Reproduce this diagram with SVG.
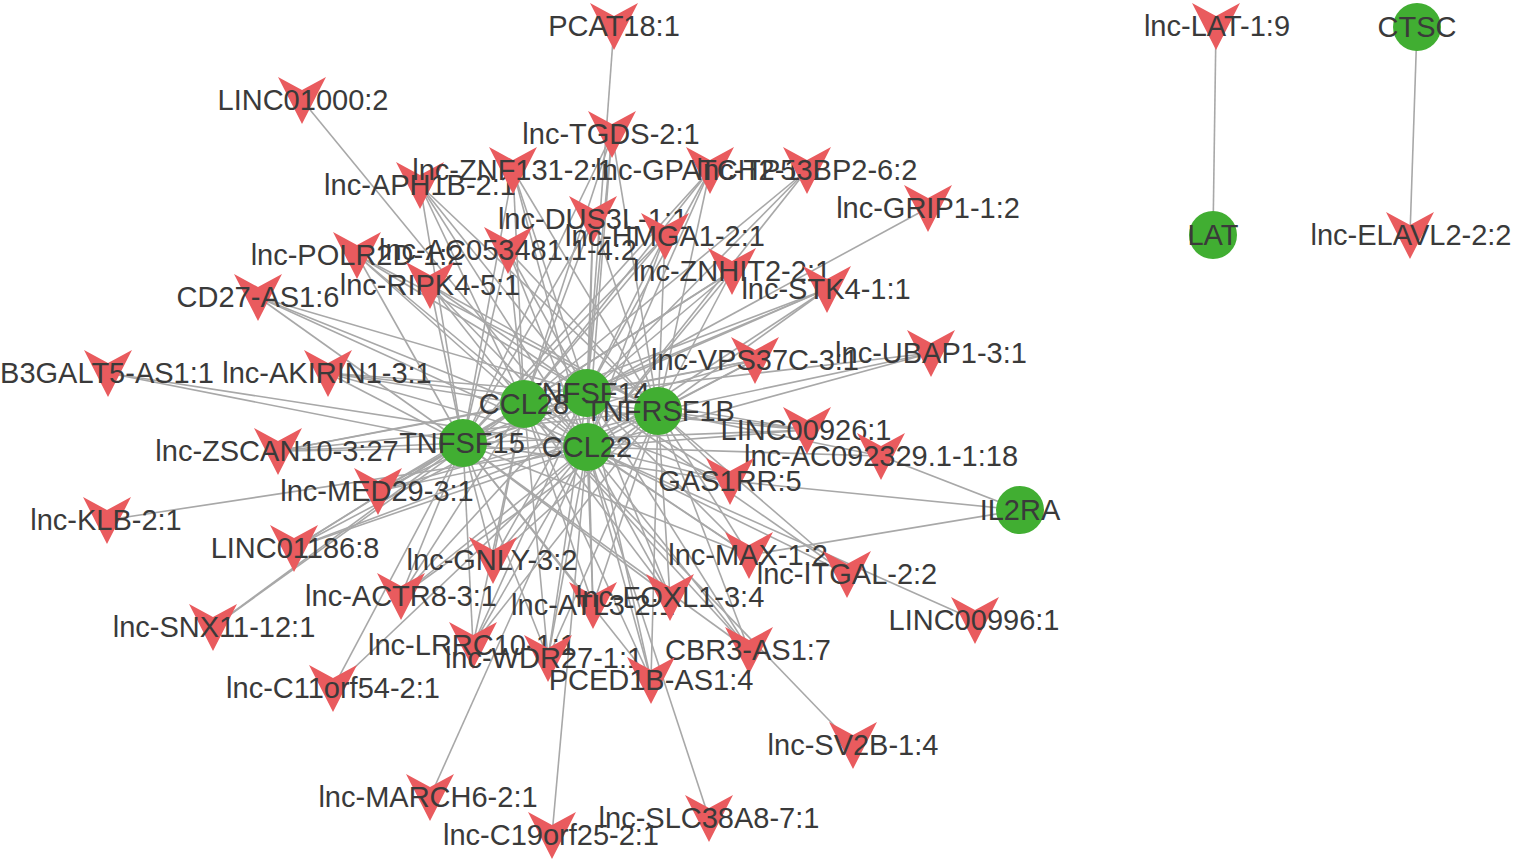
<svg xmlns="http://www.w3.org/2000/svg" xmlns:xlink="http://www.w3.org/1999/xlink" width="1513" height="861" viewBox="0 0 1513 861">
<style>
.e{stroke:#A8A8A8;stroke-width:1.6;fill:none}
.v{fill:#E95B5E}
.g{fill:#41AE32}
.t{font-family:"Liberation Sans",Arial,sans-serif;font-size:29px;fill:#3a3a3a;text-anchor:middle}
</style>
<defs>
<path id="vshape" d="M -24,-23 L 0,-10 L 24,-23 L 0,24 Z"/>
</defs>
<rect width="1513" height="861" fill="#ffffff"/>
<g id="connectors">
<line class="e" x1="612" y1="134" x2="463" y2="443"/><line class="e" x1="612" y1="134" x2="524" y2="404"/><line class="e" x1="612" y1="134" x2="587" y2="393"/><line class="e" x1="612" y1="134" x2="658" y2="411"/><line class="e" x1="612" y1="134" x2="587" y2="447"/>
<line class="e" x1="513" y1="170" x2="463" y2="443"/><line class="e" x1="513" y1="170" x2="524" y2="404"/><line class="e" x1="513" y1="170" x2="587" y2="393"/><line class="e" x1="513" y1="170" x2="658" y2="411"/><line class="e" x1="513" y1="170" x2="587" y2="447"/>
<line class="e" x1="420" y1="185" x2="463" y2="443"/><line class="e" x1="420" y1="185" x2="524" y2="404"/><line class="e" x1="420" y1="185" x2="587" y2="393"/><line class="e" x1="420" y1="185" x2="658" y2="411"/><line class="e" x1="420" y1="185" x2="587" y2="447"/>
<line class="e" x1="710" y1="170" x2="463" y2="443"/><line class="e" x1="710" y1="170" x2="524" y2="404"/><line class="e" x1="710" y1="170" x2="587" y2="393"/><line class="e" x1="710" y1="170" x2="658" y2="411"/><line class="e" x1="710" y1="170" x2="587" y2="447"/>
<line class="e" x1="807" y1="170" x2="524" y2="404"/><line class="e" x1="807" y1="170" x2="587" y2="393"/><line class="e" x1="807" y1="170" x2="587" y2="447"/>
<line class="e" x1="593" y1="219" x2="463" y2="443"/><line class="e" x1="593" y1="219" x2="524" y2="404"/><line class="e" x1="593" y1="219" x2="587" y2="393"/><line class="e" x1="593" y1="219" x2="658" y2="411"/><line class="e" x1="593" y1="219" x2="587" y2="447"/>
<line class="e" x1="508" y1="250" x2="463" y2="443"/><line class="e" x1="508" y1="250" x2="524" y2="404"/><line class="e" x1="508" y1="250" x2="587" y2="393"/><line class="e" x1="508" y1="250" x2="658" y2="411"/><line class="e" x1="508" y1="250" x2="587" y2="447"/>
<line class="e" x1="357" y1="255" x2="463" y2="443"/><line class="e" x1="357" y1="255" x2="524" y2="404"/><line class="e" x1="357" y1="255" x2="587" y2="393"/><line class="e" x1="357" y1="255" x2="658" y2="411"/><line class="e" x1="357" y1="255" x2="587" y2="447"/>
<line class="e" x1="430" y1="285" x2="463" y2="443"/><line class="e" x1="430" y1="285" x2="524" y2="404"/><line class="e" x1="430" y1="285" x2="587" y2="393"/><line class="e" x1="430" y1="285" x2="658" y2="411"/><line class="e" x1="430" y1="285" x2="587" y2="447"/>
<line class="e" x1="665" y1="236" x2="463" y2="443"/><line class="e" x1="665" y1="236" x2="524" y2="404"/><line class="e" x1="665" y1="236" x2="587" y2="393"/><line class="e" x1="665" y1="236" x2="658" y2="411"/><line class="e" x1="665" y1="236" x2="587" y2="447"/>
<line class="e" x1="732" y1="271" x2="463" y2="443"/><line class="e" x1="732" y1="271" x2="524" y2="404"/><line class="e" x1="732" y1="271" x2="587" y2="393"/><line class="e" x1="732" y1="271" x2="658" y2="411"/><line class="e" x1="732" y1="271" x2="587" y2="447"/>
<line class="e" x1="827" y1="289" x2="463" y2="443"/><line class="e" x1="827" y1="289" x2="524" y2="404"/><line class="e" x1="827" y1="289" x2="587" y2="393"/><line class="e" x1="827" y1="289" x2="658" y2="411"/><line class="e" x1="827" y1="289" x2="587" y2="447"/>
<line class="e" x1="258" y1="297" x2="463" y2="443"/><line class="e" x1="258" y1="297" x2="524" y2="404"/><line class="e" x1="258" y1="297" x2="587" y2="393"/><line class="e" x1="258" y1="297" x2="587" y2="447"/>
<line class="e" x1="328" y1="373" x2="463" y2="443"/><line class="e" x1="328" y1="373" x2="524" y2="404"/><line class="e" x1="328" y1="373" x2="587" y2="393"/><line class="e" x1="328" y1="373" x2="658" y2="411"/><line class="e" x1="328" y1="373" x2="587" y2="447"/>
<line class="e" x1="108" y1="373" x2="463" y2="443"/><line class="e" x1="108" y1="373" x2="587" y2="447"/>
<line class="e" x1="755" y1="360" x2="463" y2="443"/><line class="e" x1="755" y1="360" x2="524" y2="404"/><line class="e" x1="755" y1="360" x2="587" y2="393"/><line class="e" x1="755" y1="360" x2="658" y2="411"/><line class="e" x1="755" y1="360" x2="587" y2="447"/>
<line class="e" x1="931" y1="353" x2="587" y2="393"/><line class="e" x1="931" y1="353" x2="658" y2="411"/><line class="e" x1="931" y1="353" x2="587" y2="447"/>
<line class="e" x1="807" y1="430" x2="463" y2="443"/><line class="e" x1="807" y1="430" x2="524" y2="404"/><line class="e" x1="807" y1="430" x2="587" y2="393"/><line class="e" x1="807" y1="430" x2="658" y2="411"/><line class="e" x1="807" y1="430" x2="587" y2="447"/>
<line class="e" x1="881" y1="456" x2="658" y2="411"/><line class="e" x1="881" y1="456" x2="587" y2="447"/><line class="e" x1="881" y1="456" x2="1020" y2="510"/>
<line class="e" x1="730" y1="481" x2="463" y2="443"/><line class="e" x1="730" y1="481" x2="524" y2="404"/><line class="e" x1="730" y1="481" x2="587" y2="393"/><line class="e" x1="730" y1="481" x2="658" y2="411"/><line class="e" x1="730" y1="481" x2="587" y2="447"/><line class="e" x1="730" y1="481" x2="1020" y2="510"/>
<line class="e" x1="278" y1="451" x2="463" y2="443"/><line class="e" x1="278" y1="451" x2="524" y2="404"/><line class="e" x1="278" y1="451" x2="587" y2="393"/><line class="e" x1="278" y1="451" x2="658" y2="411"/><line class="e" x1="278" y1="451" x2="587" y2="447"/>
<line class="e" x1="378" y1="491" x2="463" y2="443"/><line class="e" x1="378" y1="491" x2="524" y2="404"/><line class="e" x1="378" y1="491" x2="587" y2="393"/><line class="e" x1="378" y1="491" x2="658" y2="411"/><line class="e" x1="378" y1="491" x2="587" y2="447"/>
<line class="e" x1="107" y1="520" x2="587" y2="447"/>
<line class="e" x1="294" y1="548" x2="463" y2="443"/><line class="e" x1="294" y1="548" x2="524" y2="404"/><line class="e" x1="294" y1="548" x2="587" y2="393"/><line class="e" x1="294" y1="548" x2="658" y2="411"/><line class="e" x1="294" y1="548" x2="587" y2="447"/>
<line class="e" x1="493" y1="560" x2="463" y2="443"/><line class="e" x1="493" y1="560" x2="524" y2="404"/><line class="e" x1="493" y1="560" x2="587" y2="393"/><line class="e" x1="493" y1="560" x2="658" y2="411"/><line class="e" x1="493" y1="560" x2="587" y2="447"/>
<line class="e" x1="749" y1="555" x2="463" y2="443"/><line class="e" x1="749" y1="555" x2="524" y2="404"/><line class="e" x1="749" y1="555" x2="587" y2="393"/><line class="e" x1="749" y1="555" x2="658" y2="411"/><line class="e" x1="749" y1="555" x2="587" y2="447"/><line class="e" x1="749" y1="555" x2="1020" y2="510"/>
<line class="e" x1="847" y1="574" x2="587" y2="393"/><line class="e" x1="847" y1="574" x2="658" y2="411"/><line class="e" x1="847" y1="574" x2="587" y2="447"/>
<line class="e" x1="401" y1="596" x2="463" y2="443"/><line class="e" x1="401" y1="596" x2="524" y2="404"/><line class="e" x1="401" y1="596" x2="587" y2="393"/><line class="e" x1="401" y1="596" x2="658" y2="411"/><line class="e" x1="401" y1="596" x2="587" y2="447"/>
<line class="e" x1="593" y1="605" x2="463" y2="443"/><line class="e" x1="593" y1="605" x2="524" y2="404"/><line class="e" x1="593" y1="605" x2="587" y2="393"/><line class="e" x1="593" y1="605" x2="658" y2="411"/><line class="e" x1="593" y1="605" x2="587" y2="447"/>
<line class="e" x1="670" y1="597" x2="463" y2="443"/><line class="e" x1="670" y1="597" x2="524" y2="404"/><line class="e" x1="670" y1="597" x2="587" y2="393"/><line class="e" x1="670" y1="597" x2="658" y2="411"/><line class="e" x1="670" y1="597" x2="587" y2="447"/>
<line class="e" x1="975" y1="620" x2="587" y2="447"/>
<line class="e" x1="213" y1="627" x2="463" y2="443"/><line class="e" x1="213" y1="627" x2="524" y2="404"/>
<line class="e" x1="473" y1="645" x2="463" y2="443"/><line class="e" x1="473" y1="645" x2="524" y2="404"/><line class="e" x1="473" y1="645" x2="587" y2="393"/><line class="e" x1="473" y1="645" x2="658" y2="411"/><line class="e" x1="473" y1="645" x2="587" y2="447"/>
<line class="e" x1="548" y1="658" x2="463" y2="443"/><line class="e" x1="548" y1="658" x2="524" y2="404"/><line class="e" x1="548" y1="658" x2="587" y2="393"/><line class="e" x1="548" y1="658" x2="658" y2="411"/><line class="e" x1="548" y1="658" x2="587" y2="447"/>
<line class="e" x1="749" y1="650" x2="463" y2="443"/><line class="e" x1="749" y1="650" x2="524" y2="404"/><line class="e" x1="749" y1="650" x2="587" y2="393"/><line class="e" x1="749" y1="650" x2="658" y2="411"/><line class="e" x1="749" y1="650" x2="587" y2="447"/>
<line class="e" x1="333" y1="688" x2="463" y2="443"/><line class="e" x1="333" y1="688" x2="587" y2="447"/>
<line class="e" x1="651" y1="680" x2="463" y2="443"/><line class="e" x1="651" y1="680" x2="524" y2="404"/><line class="e" x1="651" y1="680" x2="587" y2="393"/><line class="e" x1="651" y1="680" x2="658" y2="411"/><line class="e" x1="651" y1="680" x2="587" y2="447"/>
<line class="e" x1="853" y1="745" x2="524" y2="404"/>
<line class="e" x1="430" y1="797" x2="587" y2="447"/>
<line class="e" x1="709" y1="818" x2="587" y2="447"/>
<line class="e" x1="552" y1="835" x2="587" y2="447"/>
<line class="e" x1="614" y1="26" x2="587" y2="393"/>
<line class="e" x1="302" y1="100" x2="587" y2="447"/>
<line class="e" x1="928" y1="208" x2="587" y2="393"/>
<line class="e" x1="1216" y1="26" x2="1213" y2="235"/>
<line class="e" x1="1417" y1="27" x2="1410" y2="235"/>
</g>
<g id="nodes">
<g id="n-PCAT18"><use href="#vshape" class="v" x="614" y="26"/><text class="t" x="614" y="36">PCAT18:1</text></g>
<g id="n-LINC01000"><use href="#vshape" class="v" x="302" y="100"/><text class="t" x="303" y="110">LINC01000:2</text></g>
<g id="n-TGDS"><use href="#vshape" class="v" x="612" y="134"/><text class="t" x="611" y="144">lnc-TGDS-2:1</text></g>
<g id="n-APH1B"><use href="#vshape" class="v" x="420" y="185"/><text class="t" x="420" y="195">lnc-APH1B-2:1</text></g>
<g id="n-ZNF131"><use href="#vshape" class="v" x="513" y="170"/><text class="t" x="513" y="180">lnc-ZNF131-2:1</text></g>
<g id="n-GPATCH2"><use href="#vshape" class="v" x="710" y="170"/><text class="t" x="710" y="180">lnc-GPATCH2-1:1</text></g>
<g id="n-TP53BP2"><use href="#vshape" class="v" x="807" y="170"/><text class="t" x="807" y="180">lnc-TP53BP2-6:2</text></g>
<g id="n-GRIP1"><use href="#vshape" class="v" x="928" y="208"/><text class="t" x="928" y="218">lnc-GRIP1-1:2</text></g>
<g id="n-DUS3L"><use href="#vshape" class="v" x="593" y="219"/><text class="t" x="593" y="229">lnc-DUS3L-1:1</text></g>
<g id="n-HMGA1"><use href="#vshape" class="v" x="665" y="236"/><text class="t" x="665" y="246">lnc-HMGA1-2:1</text></g>
<g id="n-POLR2D"><use href="#vshape" class="v" x="357" y="255"/><text class="t" x="357" y="265">lnc-POLR2D-1:2</text></g>
<g id="n-AC053481"><use href="#vshape" class="v" x="508" y="250"/><text class="t" x="508" y="260">lnc-AC053481.1-4:2</text></g>
<g id="n-ZNHIT2"><use href="#vshape" class="v" x="732" y="271"/><text class="t" x="732" y="281">lnc-ZNHIT2-2:1</text></g>
<g id="n-RIPK4"><use href="#vshape" class="v" x="430" y="285"/><text class="t" x="430" y="295">lnc-RIPK4-5:1</text></g>
<g id="n-STK4"><use href="#vshape" class="v" x="827" y="289"/><text class="t" x="826" y="299">lnc-STK4-1:1</text></g>
<g id="n-CD27AS1"><use href="#vshape" class="v" x="258" y="297"/><text class="t" x="258" y="307">CD27-AS1:6</text></g>
<g id="n-B3GALT5AS1"><use href="#vshape" class="v" x="108" y="373"/><text class="t" x="107" y="383">B3GALT5-AS1:1</text></g>
<g id="n-AKIRIN1"><use href="#vshape" class="v" x="328" y="373"/><text class="t" x="327" y="383">lnc-AKIRIN1-3:1</text></g>
<g id="n-VPS37C"><use href="#vshape" class="v" x="755" y="360"/><text class="t" x="755" y="370">lnc-VPS37C-3:1</text></g>
<g id="n-UBAP1"><use href="#vshape" class="v" x="931" y="353"/><text class="t" x="931" y="363">lnc-UBAP1-3:1</text></g>
<g id="n-LINC00926"><use href="#vshape" class="v" x="807" y="430"/><text class="t" x="806" y="440">LINC00926:1</text></g>
<g id="n-AC092329"><use href="#vshape" class="v" x="881" y="456"/><text class="t" x="881" y="466">lnc-AC092329.1-1:18</text></g>
<g id="n-ZSCAN10"><use href="#vshape" class="v" x="278" y="451"/><text class="t" x="277" y="461">lnc-ZSCAN10-3:27</text></g>
<g id="n-GAS1RR"><use href="#vshape" class="v" x="730" y="481"/><text class="t" x="730" y="491">GAS1RR:5</text></g>
<g id="n-MED29"><use href="#vshape" class="v" x="378" y="491"/><text class="t" x="377" y="501">lnc-MED29-3:1</text></g>
<g id="n-KLB"><use href="#vshape" class="v" x="107" y="520"/><text class="t" x="106" y="530">lnc-KLB-2:1</text></g>
<g id="n-LINC01186"><use href="#vshape" class="v" x="294" y="548"/><text class="t" x="295" y="558">LINC01186:8</text></g>
<g id="n-GNLY"><use href="#vshape" class="v" x="493" y="560"/><text class="t" x="492" y="570">lnc-GNLY-3:2</text></g>
<g id="n-MAX"><use href="#vshape" class="v" x="749" y="555"/><text class="t" x="748" y="565">lnc-MAX-1:2</text></g>
<g id="n-ITGAL"><use href="#vshape" class="v" x="847" y="574"/><text class="t" x="847" y="584">lnc-ITGAL-2:2</text></g>
<g id="n-ACTR8"><use href="#vshape" class="v" x="401" y="596"/><text class="t" x="401" y="606">lnc-ACTR8-3:1</text></g>
<g id="n-ATL3"><use href="#vshape" class="v" x="593" y="605"/><text class="t" x="593" y="615">lnc-ATL3-2:1</text></g>
<g id="n-FOXL1"><use href="#vshape" class="v" x="670" y="597"/><text class="t" x="670" y="607">lnc-FOXL1-3:4</text></g>
<g id="n-LINC00996"><use href="#vshape" class="v" x="975" y="620"/><text class="t" x="974" y="630">LINC00996:1</text></g>
<g id="n-SNX11"><use href="#vshape" class="v" x="213" y="627"/><text class="t" x="214" y="637">lnc-SNX11-12:1</text></g>
<g id="n-LRRC10"><use href="#vshape" class="v" x="473" y="645"/><text class="t" x="472" y="655">lnc-LRRC10-1:1</text></g>
<g id="n-WDR27"><use href="#vshape" class="v" x="548" y="658"/><text class="t" x="544" y="668">lnc-WDR27-1:1</text></g>
<g id="n-CBR3AS1"><use href="#vshape" class="v" x="749" y="650"/><text class="t" x="748" y="660">CBR3-AS1:7</text></g>
<g id="n-C11orf54"><use href="#vshape" class="v" x="333" y="688"/><text class="t" x="333" y="698">lnc-C11orf54-2:1</text></g>
<g id="n-PCED1BAS1"><use href="#vshape" class="v" x="651" y="680"/><text class="t" x="651" y="690">PCED1B-AS1:4</text></g>
<g id="n-SV2B"><use href="#vshape" class="v" x="853" y="745"/><text class="t" x="853" y="755">lnc-SV2B-1:4</text></g>
<g id="n-MARCH6"><use href="#vshape" class="v" x="430" y="797"/><text class="t" x="428" y="807">lnc-MARCH6-2:1</text></g>
<g id="n-SLC38A8"><use href="#vshape" class="v" x="709" y="818"/><text class="t" x="709" y="828">lnc-SLC38A8-7:1</text></g>
<g id="n-C19orf25"><use href="#vshape" class="v" x="552" y="835"/><text class="t" x="551" y="845">lnc-C19orf25-2:1</text></g>
<g id="n-LAT1"><use href="#vshape" class="v" x="1216" y="26"/><text class="t" x="1217" y="36">lnc-LAT-1:9</text></g>
<g id="n-ELAVL2"><use href="#vshape" class="v" x="1410" y="235"/><text class="t" x="1411" y="245">lnc-ELAVL2-2:2</text></g>
<g id="n-TNFSF14"><circle class="g" cx="587" cy="393" r="24"/><text class="t" x="587" y="403">TNFSF14</text></g>
<g id="n-CCL28"><circle class="g" cx="524" cy="404" r="24"/><text class="t" x="524" y="414">CCL28</text></g>
<g id="n-TNFRSF1B"><circle class="g" cx="658" cy="411" r="24"/><text class="t" x="660" y="421">TNFRSF1B</text></g>
<g id="n-CCL22"><circle class="g" cx="587" cy="447" r="24"/><text class="t" x="587" y="457">CCL22</text></g>
<g id="n-TNFSF15"><circle class="g" cx="463" cy="443" r="24"/><text class="t" x="462" y="453">TNFSF15</text></g>
<g id="n-IL2RA"><circle class="g" cx="1020" cy="510" r="24"/><text class="t" x="1020" y="520">IL2RA</text></g>
<g id="n-CTSC"><circle class="g" cx="1417" cy="27" r="24"/><text class="t" x="1417" y="37">CTSC</text></g>
<g id="n-LAT"><circle class="g" cx="1213" cy="235" r="24"/><text class="t" x="1213" y="245">LAT</text></g>
</g>
</svg>
